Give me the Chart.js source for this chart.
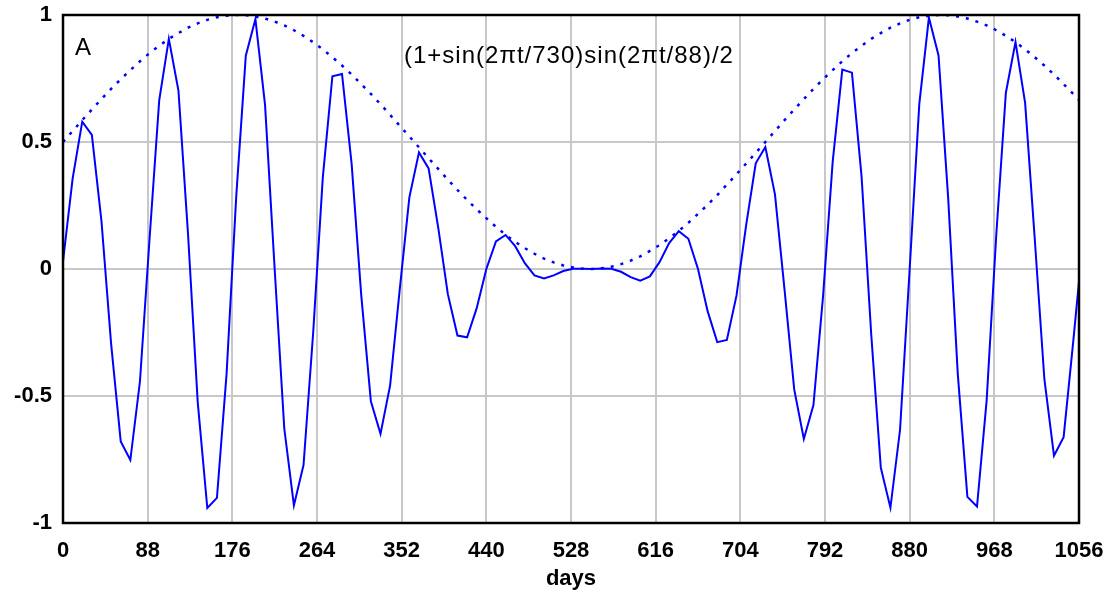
<!DOCTYPE html>
<html lang="en">
<head>
    <meta charset="UTF-8">
    <title>(1+sin(2πt/730)sin(2πt/88))/2</title>
    <script src="https://cdn.jsdelivr.net/npm/chart.js"></script>
    <style>
        html, body { margin: 0; padding: 0; background: #fff; }
        #wrap { width: 1110px; height: 592px; }
    </style>
</head>
<body>
    <div id="wrap"><canvas id="waveChart" width="1110" height="592"></canvas></div>

    <script>
        // Sample times (days)
        const days = [
            0, 10, 20, 30, 40, 50, 60, 70, 80, 90,
            100, 110, 120, 130, 140, 150, 160, 170, 180, 190,
            200, 210, 220, 230, 240, 250, 260, 270, 280, 290,
            300, 310, 320, 330, 340, 350, 360, 370, 380, 390,
            400, 410, 420, 430, 440, 450, 460, 470, 480, 490,
            500, 510, 520, 530, 540, 550, 560, 570, 580, 590,
            600, 610, 620, 630, 640, 650, 660, 670, 680, 690,
            700, 710, 720, 730, 740, 750, 760, 770, 780, 790,
            800, 810, 820, 830, 840, 850, 860, 870, 880, 890,
            900, 910, 920, 930, 940, 950, 960, 970, 980, 990,
            1000, 1010, 1020, 1030, 1040, 1050, 1056
        ];

        // Solid curve
        const wave = [
            0.03, 0.356, 0.580, 0.528, 0.188, -0.294, -0.679, -0.752, -0.442, 0.121,
            0.664, 0.906, 0.702, 0.135, -0.523, -0.941, -0.901, -0.414, 0.282, 0.840,
            0.984, 0.646, 0.0, -0.628, -0.931, -0.772, -0.252, 0.359, 0.759, 0.768,
            0.414, -0.104, -0.521, -0.649, -0.458, -0.080, 0.282, 0.459, 0.396, 0.163,
            -0.099, -0.262, -0.269, -0.154, 0.0, 0.109, 0.134, 0.090, 0.023, -0.025,
            -0.037, -0.025, -0.008, 0.001, 0.001, 0.0, 0.002, 0.001, -0.011, -0.032,
            -0.046, -0.029, 0.027, 0.102, 0.149, 0.119, 0.0, -0.166, -0.288, -0.279,
            -0.105, 0.172, 0.416, 0.480, 0.294, -0.083, -0.474, -0.669, -0.536, -0.106,
            0.423, 0.785, 0.773, 0.365, -0.255, -0.782, -0.940, -0.633, 0.0, 0.649,
            0.990, 0.841, 0.281, -0.413, -0.897, -0.935, -0.518, 0.134, 0.694, 0.893,
            0.654, 0.119, -0.433, -0.735, -0.662, -0.286, -0.05
        ];

        // Dotted envelope
        const envelope = [
            0.500, 0.543, 0.586, 0.628, 0.669, 0.709, 0.747, 0.783, 0.818, 0.850,
            0.879, 0.906, 0.929, 0.950, 0.967, 0.981, 0.991, 0.997, 1.000, 0.999,
            0.994, 0.986, 0.974, 0.959, 0.940, 0.918, 0.893, 0.865, 0.834, 0.801,
            0.766, 0.728, 0.689, 0.649, 0.607, 0.564, 0.522, 0.479, 0.436, 0.394,
            0.352, 0.311, 0.272, 0.235, 0.200, 0.166, 0.135, 0.107, 0.082, 0.060,
            0.041, 0.026, 0.014, 0.006, 0.001, 0.000, 0.003, 0.009, 0.019, 0.033,
            0.050, 0.071, 0.094, 0.121, 0.150, 0.182, 0.217, 0.253, 0.291, 0.332,
            0.373, 0.415, 0.457, 0.500, 0.543, 0.586, 0.628, 0.669, 0.709, 0.747,
            0.783, 0.818, 0.850, 0.879, 0.906, 0.929, 0.950, 0.967, 0.981, 0.991,
            0.997, 1.000, 0.999, 0.994, 0.986, 0.974, 0.959, 0.940, 0.918, 0.893,
            0.865, 0.834, 0.801, 0.766, 0.728, 0.689, 0.666
        ];

        // Axis ticks
        const xTicks = [0, 88, 176, 264, 352, 440, 528, 616, 704, 792, 880, 968, 1056];
        const yTicks = [-1, -0.5, 0, 0.5, 1];

        const panelLabel = "A";
        const formulaLabel = "(1+sin(2\u03C0t/730)sin(2\u03C0t/88)/2";

        const FONT = "'Liberation Sans', Arial, Helvetica, sans-serif";

        // frame + annotations
        const framePlugin = {
            id: "frame",
            afterDraw(chart) {
                const { ctx, chartArea: a } = chart;
                ctx.save();
                ctx.strokeStyle = "#000";
                ctx.lineWidth = 2.5;
                ctx.strokeRect(a.left, a.top, a.right - a.left, a.bottom - a.top);
                ctx.fillStyle = "#000";
                ctx.textBaseline = "alphabetic";
                ctx.textAlign = "left";
                ctx.font = "24px " + FONT;
                ctx.fillText(panelLabel, 75, 55);
                ctx.letterSpacing = "1px";
                ctx.fillText(formulaLabel, 404, 63);
                ctx.restore();
            }
        };

        const ctx = document.getElementById("waveChart").getContext("2d");
        new Chart(ctx, {
            type: "line",
            data: {
                datasets: [
                    {
                        data: days.map((d, i) => ({ x: d, y: wave[i] })),
                        borderColor: "#0000ff",
                        borderWidth: 2,
                        pointRadius: 0,
                        tension: 0,
                    },
                    {
                        data: days.map((d, i) => ({ x: d, y: envelope[i] })),
                        borderColor: "#0000ff",
                        borderWidth: 2.5,
                        borderDash: [3, 7],
                        pointRadius: 0,
                        tension: 0,
                    },
                ],
            },
            options: {
                responsive: false,
                animation: false,
                layout: { padding: { top: 15, right: 31, left: 0, bottom: 0 } },
                plugins: {
                    legend: { display: false },
                    tooltip: { enabled: false },
                },
                scales: {
                    x: {
                        type: "linear",
                        min: 0,
                        max: 1056,
                        afterBuildTicks: (s) => { s.ticks = xTicks.map(v => ({ value: v })); },
                        afterFit: (s) => {
                            s.height = 69;
                            s.paddingLeft = 0;
                            s.paddingRight = 0;
                        },
                        grid: { color: "#c8c8c8", lineWidth: 2, drawTicks: false },
                        border: { display: false },
                        ticks: {
                            color: "#000",
                            padding: 15,
                            maxRotation: 0,
                            autoSkip: false,
                            font: { family: FONT, size: 22, weight: "bold" },
                            callback: (v) => String(v),
                        },
                        title: {
                            display: true,
                            text: "days",
                            color: "#000",
                            padding: { top: 0, bottom: 0 },
                            font: { family: FONT, size: 22, weight: "bold" },
                        },
                    },
                    y: {
                        min: -1,
                        max: 1,
                        afterBuildTicks: (s) => { s.ticks = yTicks.map(v => ({ value: v })); },
                        afterFit: (s) => {
                            s.width = 63;
                            s.paddingTop = 0;
                            s.paddingBottom = 0;
                        },
                        grid: { color: "#c8c8c8", lineWidth: 2, drawTicks: false },
                        border: { display: false },
                        ticks: {
                            color: "#000",
                            padding: 11,
                            font: { family: FONT, size: 22, weight: "bold" },
                            callback: (v) => String(v),
                        },
                    },
                },
            },
            plugins: [framePlugin],
        });
    </script>
</body>
</html>
